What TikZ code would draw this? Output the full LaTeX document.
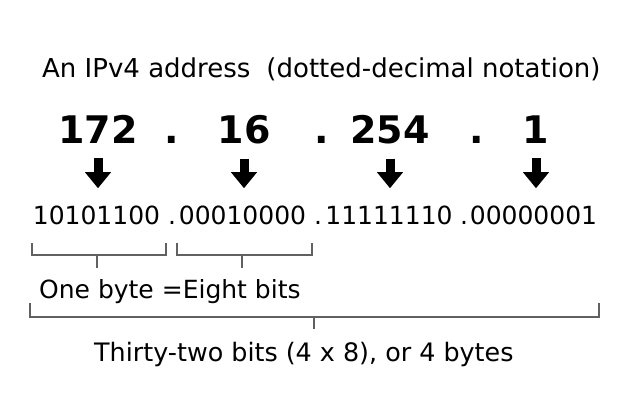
\documentclass[tikz,border=0pt]{standalone}
\usepackage{fontspec}
\setmainfont{DejaVu Sans}
\usepackage{tikz}
\usetikzlibrary{arrows.meta}

\tikzset{
  txt/.style={inner sep=0pt, font=\fontsize{25}{30}\selectfont},
  octet/.style={inner sep=0pt, font=\fontsize{38}{44}\selectfont\bfseries},
  bits/.style={inner sep=0pt, font=\fontsize{25}{30}\selectfont},
  bigarrow/.style={line width=9pt, -{Triangle[width=25pt,length=16pt]}},
  brace/.style={line width=1.8pt, color=black!62}
}

\begin{document}
\begin{tikzpicture}[x=1pt, y=-1pt]
\useasboundingbox (0,0) rectangle (630,405);
%%%%% Title %%%%%
\node[txt, anchor=base west, font=\fontsize{26}{30}\selectfont] (title) at (42,77)
  {An IPv4 address\hspace{0.3em} (dotted-decimal notation)};
%%%%% Octets %%%%%
\node[octet, anchor=base] (n1) at (98,143) {172};
\node[octet, anchor=base] (p1) at (172,143) {.};
\node[octet, anchor=base] (n2) at (244,143) {16};
\node[octet, anchor=base] (p2) at (322,143) {.};
\node[octet, anchor=base] (n3) at (390,143) {254};
\node[octet, anchor=base] (p3) at (477,143) {.};
\node[octet, anchor=base] (n4) at (536,143) {1};
%%%%% Binary %%%%%
\node[bits, anchor=base] (b1) at (96.5,224) {10101100};
\node[bits, anchor=base] (d1) at (172,224) {.};
\node[bits, anchor=base] (b2) at (242.5,224) {00010000};
\node[bits, anchor=base] (d2) at (318,224) {.};
\node[bits, anchor=base] (b3) at (389,224) {11111110};
\node[bits, anchor=base] (d3) at (464,224) {.};
\node[bits, anchor=base] (b4) at (533.5,224) {00000001};
%%%%% Arrows %%%%%
\foreach \i in {1,...,4}{
  \draw[bigarrow, shorten <=15pt, shorten >=17pt] (n\i.south) -- (n\i.south |- b\i.north);
}
%%%%% Brackets %%%%%
\draw[brace] (32,243)--(32,255)--(166,255)--(166,243);
\draw[brace] (97,255)--(97,268);
\draw[brace] (177,243)--(177,255)--(312,255)--(312,243);
\draw[brace] (242,255)--(242,268);
\node[txt, anchor=base west] (byte) at (39,298) {One byte =Eight bits};
\draw[brace] (30,303)--(30,317)--(599,317)--(599,303);
\draw[brace] (314,317)--(314,329);
\node[txt, anchor=base west, font=\fontsize{25.4}{30}\selectfont] (word) at (94,361) {Thirty-two bits (4 x 8), or 4 bytes};
\end{tikzpicture}
\end{document}
